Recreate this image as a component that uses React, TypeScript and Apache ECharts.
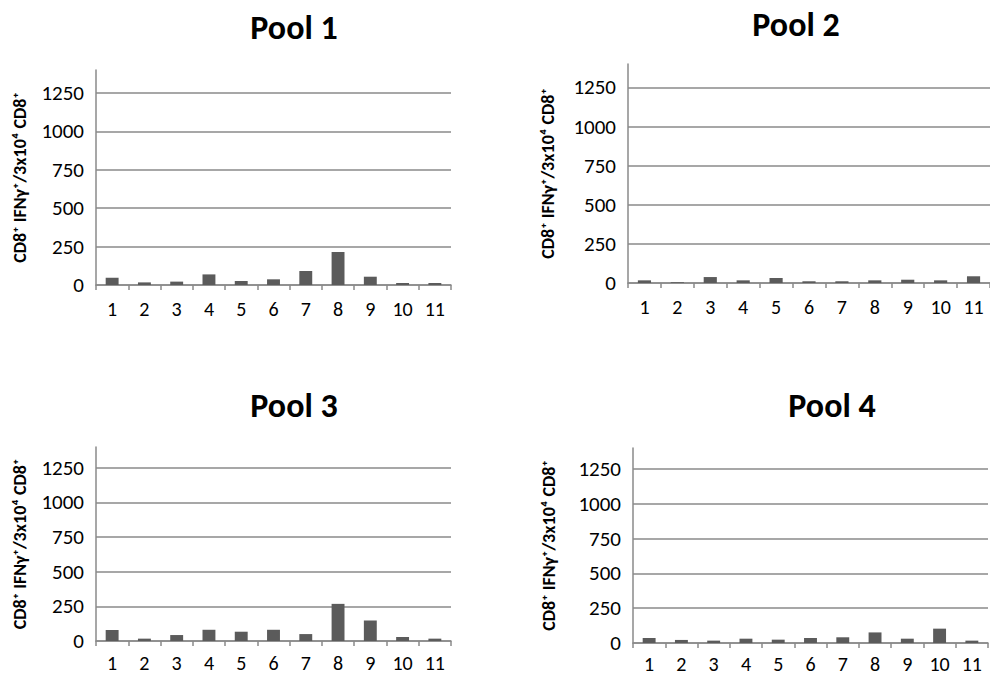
import React, { useEffect, useRef } from "react";
import * as echarts from "echarts";

const categories = ["1", "2", "3", "4", "5", "6", "7", "8", "9", "10", "11"];
const pool1 = [48, 17, 22, 69, 26, 37, 91, 215, 54, 13, 13];
const pool2 = [17, 5, 38, 17, 32, 11, 11, 17, 21, 17, 43];
const pool3 = [79, 17, 43, 81, 67, 81, 50, 268, 148, 29, 17];
const pool4 = [36, 22, 17, 31, 24, 36, 41, 76, 31, 103, 17];
const poolTitles = ["Pool 1", "Pool 2", "Pool 3", "Pool 4"];
const yAxisName = "CD8⁺ IFNγ⁺/3x10⁴ CD8⁺";
const yMin = 0;
const yMax = 1400;
const yInterval = 250;

const FONT = "Carlito, Lato, 'Noto Sans', sans-serif";
const GRAY = "#8a8a8a";
const BAR = "#5b5b5b";

const panels = [
  { data: pool1, grid: { left: 96, top: 70, width: 355, height: 215 }, nameGap: 67, title: [294, 27], xMargin: 15 },
  { data: pool2, grid: { left: 628, top: 64, width: 362, height: 219 }, nameGap: 71, title: [796, 24], xMargin: 15 },
  { data: pool3, grid: { left: 96, top: 447, width: 355, height: 194 }, nameGap: 67, title: [294, 405], xMargin: 13 },
  { data: pool4, grid: { left: 633, top: 448, width: 355, height: 195 }, nameGap: 75, title: [832, 405], xMargin: 12 },
];

export default function App() {
  const ref = useRef<HTMLDivElement>(null);
  useEffect(() => {
    document.body.style.margin = "0";
    if (!ref.current) return;
    const chart = echarts.init(ref.current, null, { renderer: "svg" });
    const option: any = {
      animation: false,
      backgroundColor: "#ffffff",
      graphic: panels.map((p, i) => ({
        type: "text",
        x: p.title[0],
        y: p.title[1],
        style: {
          text: poolTitles[i],
          font: `900 34px ${FONT}`,
          fill: "#000",
          textAlign: "center",
          textVerticalAlign: "middle",
        },
      })),
      grid: panels.map((p) => ({ ...p.grid, containLabel: false })),
      xAxis: panels.map((p, i) => ({
        type: "category",
        gridIndex: i,
        data: categories,
        axisLine: { show: true, lineStyle: { color: GRAY, width: 1.5 } },
        axisTick: { show: true, length: 5, lineStyle: { color: GRAY, width: 1.5 } },
        axisLabel: {
          color: "#000",
          fontSize: 20,
          lineHeight: 18,
          fontFamily: FONT,
          margin: p.xMargin,
          interval: 0,
        },
        splitLine: { show: false },
      })),
      yAxis: panels.map((p, i) => ({
        type: "value",
        gridIndex: i,
        min: yMin,
        max: yMax,
        interval: yInterval,
        name: yAxisName,
        nameLocation: "middle",
        nameGap: p.nameGap,
        nameRotate: 90,
        nameTextStyle: { color: "#000", fontSize: 18, fontWeight: "bold", fontFamily: FONT },
        axisLine: { show: true, lineStyle: { color: GRAY, width: 1.5 } },
        axisTick: { show: false },
        axisLabel: {
          color: "#000",
          fontSize: 21,
          fontFamily: FONT,
          margin: 12,
          showMaxLabel: false,
          formatter: (v: number) => String(v),
        },
        splitLine: { show: true, showMaxLine: false, lineStyle: { color: GRAY, width: 1.5 } },
      })),
      series: panels.map((p, i) => ({
        type: "bar",
        name: poolTitles[i],
        xAxisIndex: i,
        yAxisIndex: i,
        data: p.data,
        barWidth: "40%",
        itemStyle: { color: BAR },
      })),
    };
    chart.setOption(option);
    return () => chart.dispose();
  }, []);
  return <div ref={ref} style={{ width: 990, height: 677 }} />;
}
